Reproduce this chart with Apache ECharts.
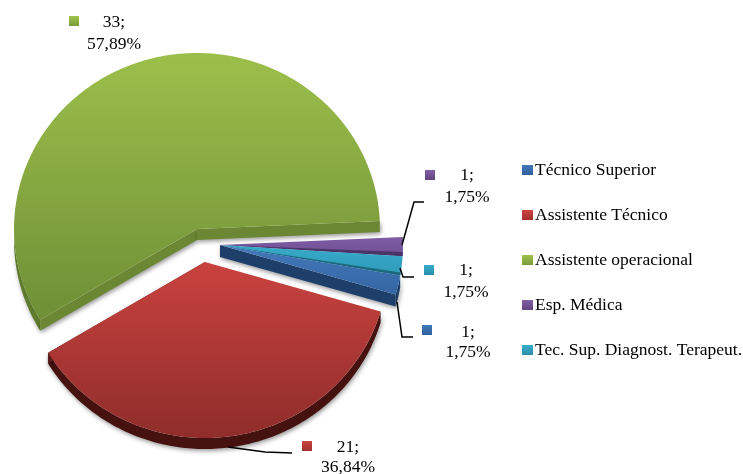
<!DOCTYPE html>
<html><head><meta charset="utf-8">
<style>html,body{margin:0;padding:0;background:#fff}#c{width:743px;height:474px}</style>
<script src="https://cdn.jsdelivr.net/npm/echarts@6/dist/echarts.min.js"></script>
</head><body><div id="c"></div>
<script>
const categories = ['Técnico Superior','Assistente Técnico','Assistente operacional','Esp. Médica','Tec. Sup. Diagnost. Terapeut.'];
const values = [1,21,33,1,1];

const total = values.reduce((a,b)=>a+b,0);
const START = 10, RX = 183, RY = 176, DEPTH = 11, SERIF = '"Liberation Serif","Times New Roman",serif';
const G = (a,b)=>new echarts.graphic.LinearGradient(0,0,0,1,[{offset:0,color:a},{offset:1,color:b}]);
const look = [
 {apex:[220,245],top:['#4379ba','#3565a3'],swatch:['#4279bb','#31609c'],wall:'#1f3f6b',cut:'#1f3f6b',strip:0,z:3,
  depth:12,line:[[397,302],[402,337],[413,337]],sw:[422,325],tx:468,ty:[332,352]},
 {apex:[205,262],top:['#c9423f','#8f2d2b'],swatch:['#cb4542','#a32f2d'],wall:'#45120f',cut:'#5a1816',strip:0,z:4,
  depth:DEPTH,line:[[228,447],[265,452],[292,453]],sw:[302,441],tx:348,ty:[447,467]},
 {apex:[197,229],top:['#9cbf4b','#6f8f36'],swatch:['#9fc24e','#7a9a3a'],wall:'#5e7a2c',cut:'#6c8733',strip:0,z:5,
  depth:DEPTH,line:null,sw:[69,16],tx:114,ty:[22,44]},
 {apex:[220,245],top:['#7f5ca5','#6f4f92'],swatch:['#8360a8','#60437f'],wall:'#4c3368',cut:'#4c3368',strip:1.4,z:1,
  depth:0,line:[[402,245],[414,202],[424,202]],sw:[425,170],tx:467,ty:[175,197]},
 {apex:[220,245],top:['#37aac9','#2f9bb8'],swatch:['#37acca','#2a8fab'],wall:'#1d6a7e',cut:'#1d6a7e',strip:1.0,z:2,
  depth:0,line:[[400,268],[403,277],[414,277]],sw:[424,265],tx:466,ty:[270,292]}
];

function ang(k){let s=0;for(let i=0;i<k;i++)s+=values[i];return START+s/total*360;}
function pt(c,a,dy){const r=a*Math.PI/180;return [c[0]+RX*Math.cos(r),c[1]+RY*Math.sin(r)+(dy||0)];}
function arcPts(c,a0,a1,dy){const p=[];const n=Math.max(2,Math.ceil(Math.abs(a1-a0)));for(let i=0;i<=n;i++)p.push(pt(c,a0+(a1-a0)*i/n,dy));return p;}
const shadow={shadowBlur:4,shadowColor:'rgba(0,0,0,0.4)',shadowOffsetX:1,shadowOffsetY:2};

function slice(i){
  const L=look[i],c=L.apex,a0=ang(i),a1=ang(i+1),d=L.depth,kids=[];
  if(d>0){
    const segs=[[Math.max(a0,0),Math.min(a1,180)]];
    segs.forEach(s=>{ if(s[1]>s[0]){
      kids.push({type:'polygon',shape:{points:arcPts(c,s[0],s[1],0).concat(arcPts(c,s[1],s[0],d))},style:Object.assign({fill:L.wall},shadow)});
    }});
    [a0,a1].forEach(a=>{ const e=pt(c,a);
      if((i===2)||(i===0&&a===a1)||(i===1&&a===a1)){
        kids.push({type:'polygon',shape:{points:[c,e,[e[0],e[1]+d],[c[0],c[1]+d]]},style:Object.assign({fill:L.cut},shadow)});
      }
    });
  }
  kids.push({type:'polygon',shape:{points:[c].concat(arcPts(c,a0,a1))},style:{fill:G(L.top[0],L.top[1])}});
  if(L.strip){
    kids.push({type:'polygon',shape:{points:[c].concat(arcPts(c,a1-L.strip,a1))},style:{fill:L.cut}});
  }
  return kids;
}
function annotation(i){
  const L=look[i],kids=[];
  if(L.line) kids.push({type:'polyline',shape:{points:L.line},style:{fill:null,stroke:'#000',lineWidth:1.5}});
  kids.push({type:'rect',shape:{x:L.sw[0],y:L.sw[1],width:10,height:10},style:{fill:G(L.swatch[0],L.swatch[1])}});
  const pct=(values[i]/total*100).toFixed(2).replace('.',',')+'%';
  [values[i]+';',pct].forEach((t,k)=>kids.push({type:'text',style:{text:t,x:L.tx,y:L.ty[k],align:'center',verticalAlign:'middle',fontFamily:SERIF,fontSize:17.5,fill:'#000'}}));
  return kids;
}
const chart=echarts.init(document.getElementById('c'),null,{renderer:'canvas'});
chart.setOption({
  animation:false,
  legend:{orient:'vertical',left:522,top:161,padding:0,itemWidth:11,itemHeight:10,itemGap:27,selectedMode:false,
    textStyle:{fontFamily:SERIF,fontSize:17.5,lineHeight:18,color:'#000',padding:[0,0,0,-3]},
    data:categories.map((n,i)=>({name:n,icon:'rect',itemStyle:{color:G(look[i].swatch[0],look[i].swatch[1])}}))},
  series:categories.map((n,i)=>({
    name:n,type:'custom',coordinateSystem:'none',z:look[i].z,silent:true,
    data:[[values[i]]],
    renderItem:()=>({type:'group',children:slice(i)})
  })).concat([{
    name:'labels',type:'custom',coordinateSystem:'none',z:10,silent:true,
    data:[[0]],
    renderItem:()=>({type:'group',children:values.flatMap((v,i)=>annotation(i))})
  }])
});
</script></body></html>
